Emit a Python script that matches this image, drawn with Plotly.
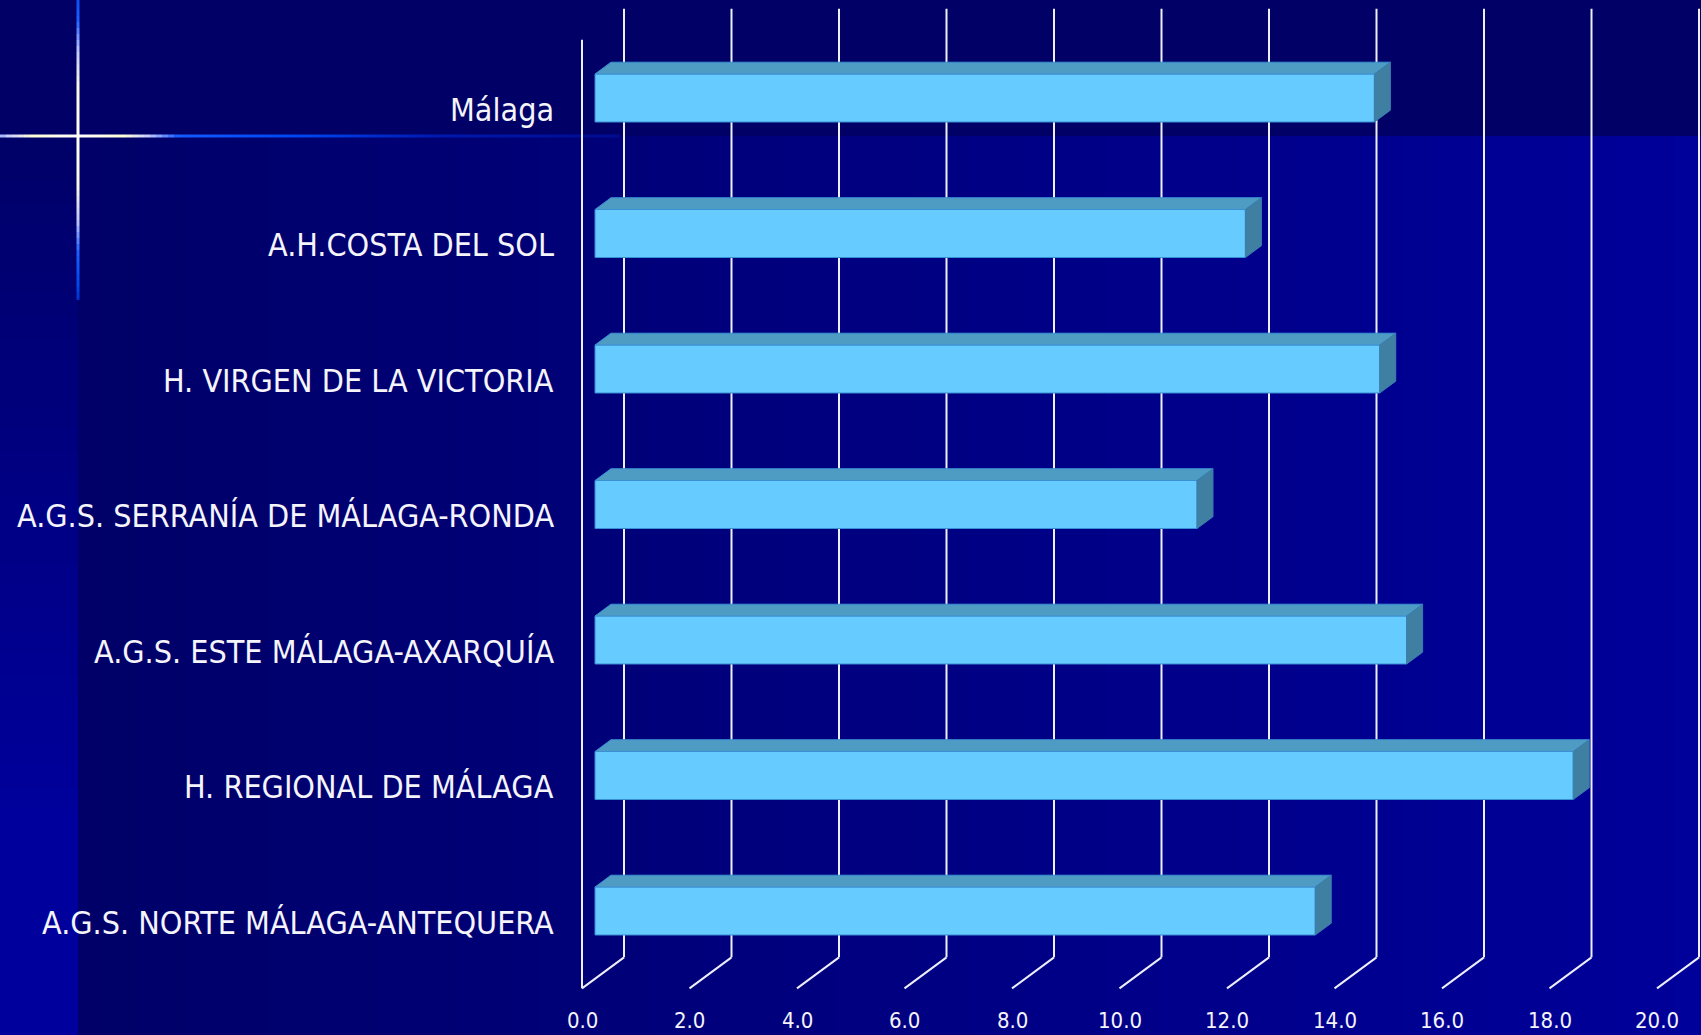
import plotly.graph_objects as go

# ---------------- data ----------------
categories = [
    "Málaga",
    "A.H.COSTA DEL SOL",
    "H. VIRGEN DE LA VICTORIA",
    "A.G.S. SERRANÍA DE MÁLAGA-RONDA",
    "A.G.S. ESTE MÁLAGA-AXARQUÍA",
    "H. REGIONAL DE MÁLAGA",
    "A.G.S. NORTE MÁLAGA-ANTEQUERA",
]
values = [14.5, 12.1, 14.6, 11.2, 15.1, 18.2, 13.4]
tick_values = [0, 2, 4, 6, 8, 10, 12, 14, 16, 18, 20]
tick_labels = ["0.0", "2.0", "4.0", "6.0", "8.0", "10.0", "12.0", "14.0", "16.0", "18.0", "20.0"]

# ---------------- geometry / style ----------------
W, H = 1701, 1035
PX, PY = 53.75, 135.5          # pixels per x unit / per category unit
X0, Y0 = 582.0, 920.6          # pixel of the front-plane origin
x_range = [-X0 / PX, (W - X0) / PX]
y_range = [(Y0 - H) / PY, Y0 / PY]
DX, DY = 42.0 / PX, 31.0 / PY  # depth vector of the 3D box
D_F, D_B = 0.31, 0.69          # bar depth (front / back)
HALF = 24.0 / PY               # half height of bar
FLOOR, TOP = -0.5, 6.5

FONT = "DejaVu Sans Condensed, Liberation Sans Narrow, DejaVu Sans, sans-serif"
FRONT_C, TOP_C, SIDE_C, EDGE_C = "#66ccff", "#4e9cc4", "#3f7fa2", "#3b8fd4"
GRID_C = "#eeeef8"

n = len(categories)
pos = [n - 1 - i for i in range(n)]

fig = go.Figure()

# ---------------- background ----------------
shapes = []
def hexc(c):
    return "#%02x%02x%02x" % tuple(int(round(v)) for v in c)

def lerp(a, b, t):
    return tuple(a[k] + (b[k] - a[k]) * t for k in range(3))

band_px = 136
shapes.append(dict(type="rect", xref="paper", yref="paper", x0=0, x1=1, y0=1 - band_px / H, y1=1,
                   fillcolor="#000066", line_width=0, layer="below"))
# main region, horizontal gradient
left_px = 78
nstrip = 60
for s in range(nstrip):
    a = left_px + (W - left_px) * s / nstrip
    b = left_px + (W - left_px) * (s + 1) / nstrip + 1
    t = (s + 0.5) / nstrip
    col = lerp((0, 0, 104), (0, 0, 154), t)
    shapes.append(dict(type="rect", xref="paper", yref="paper", x0=a / W, x1=min(b, W) / W,
                       y0=0, y1=1 - band_px / H, fillcolor=hexc(col), line_width=0, layer="below"))
# left strip, vertical gradient
for s in range(40):
    a = band_px + (H - band_px) * s / 40
    b = band_px + (H - band_px) * (s + 1) / 40 + 1
    t = (s + 0.5) / 40
    col = lerp((0, 0, 104), (0, 0, 156), min(1, t * 1.3))
    shapes.append(dict(type="rect", xref="paper", yref="paper", x0=0, x1=left_px / W,
                       y0=1 - min(b, H) / H, y1=1 - a / H, fillcolor=hexc(col), line_width=0, layer="below"))

# star (decorative glow lines)
h_stops = [(0, (255, 255, 255)), (45, (255, 255, 215)), (70, (200, 205, 255)), (100, (20, 90, 255)),
           (220, (0, 70, 240)), (360, (0, 25, 175)), (560, (0, 10, 140)), (700, (0, 5, 120))]
v_stops = [(0, (255, 255, 255)), (50, (250, 250, 225)), (85, (190, 200, 255)), (115, (30, 95, 255)),
           (150, (0, 70, 235)), (175, (0, 30, 170))]

def star_col(d, stops):
    for (d1, c1), (d2, c2) in zip(stops[:-1], stops[1:]):
        if d <= d2:
            return lerp(c1, c2, (d - d1) / (d2 - d1))
    return stops[-1][1]

cx, cy = 78, 136
seg = 6
def arm(x_from, x_to, y_from, y_to, horizontal, stops):
    length = abs((x_to - x_from) if horizontal else (y_to - y_from))
    k = int(length // seg) + 1
    for j in range(k):
        d0, d1 = j * seg, min((j + 1) * seg, length)
        if d1 <= d0:
            continue
        col = hexc(star_col((d0 + d1) / 2, stops))
        if horizontal:
            sgn = 1 if x_to > x_from else -1
            xa, xb = x_from + sgn * d0, x_from + sgn * d1
            ya = yb = y_from
        else:
            sgn = 1 if y_to > y_from else -1
            ya, yb = y_from + sgn * d0, y_from + sgn * d1
            xa = xb = x_from
        shapes.append(dict(type="line", xref="paper", yref="paper",
                           x0=xa / W, x1=xb / W, y0=1 - ya / H, y1=1 - yb / H,
                           line=dict(color=col, width=3), layer="below"))

arm(cx, 0, cy, cy, True, h_stops)
arm(cx, 620, cy, cy, True, h_stops)
arm(cx, cx, cy, 0, False, v_stops)
arm(cx, cx, cy, 300, False, v_stops)

# ---------------- 3D walls / gridlines ----------------
grid = dict(color=GRID_C, width=2)
shapes.append(dict(type="line", xref="x", yref="y", x0=0, x1=0, y0=FLOOR, y1=TOP, line=grid, layer="below"))
for v in tick_values:
    shapes.append(dict(type="line", xref="x", yref="y", x0=v, x1=v + DX, y0=FLOOR, y1=FLOOR + DY,
                       line=grid, layer="below"))
    shapes.append(dict(type="line", xref="x", yref="y", x0=v + DX, x1=v + DX, y0=FLOOR + DY, y1=TOP + DY,
                       line=grid, layer="below"))

# ---------------- bars ----------------
fig.add_trace(go.Bar(
    orientation="h", y=[p + D_F * DY for p in pos], x=values, base=D_F * DX, width=2 * HALF,
    marker=dict(color=FRONT_C, line=dict(color=EDGE_C, width=1)), hoverinfo="skip",
))

top_x, top_y, side_x, side_y = [], [], [], []
for p, v in zip(pos, values):
    yt_f = p + HALF + D_F * DY
    yt_b = p + HALF + D_B * DY
    yb_f = p - HALF + D_F * DY
    yb_b = p - HALF + D_B * DY
    xf0, xf1 = D_F * DX, v + D_F * DX
    xb0, xb1 = D_B * DX, v + D_B * DX
    top_x += [xf0, xf1, xb1, xb0, xf0, None]
    top_y += [yt_f, yt_f, yt_b, yt_b, yt_f, None]
    side_x += [xf1, xf1, xb1, xb1, xf1, None]
    side_y += [yb_f, yt_f, yt_b, yb_b, yb_f, None]

fig.add_trace(go.Scatter(x=top_x, y=top_y, mode="lines", fill="toself", fillcolor=TOP_C,
                         line=dict(color=EDGE_C, width=1), hoverinfo="skip"))
fig.add_trace(go.Scatter(x=side_x, y=side_y, mode="lines", fill="toself", fillcolor=SIDE_C,
                         line=dict(color="#3a7fb0", width=1), hoverinfo="skip"))

# ---------------- labels ----------------
annotations = []
for p, name in zip(pos, categories):
    annotations.append(dict(x=(556 - X0) / PX, y=p - 0.015, xref="x", yref="y", text=name, showarrow=False,
                            xanchor="right", yanchor="middle",
                            font=dict(family=FONT, size=32, color="#f4f4fa")))
for v, lab in zip(tick_values, tick_labels):
    annotations.append(dict(x=v, y=(Y0 - 1020) / PY, xref="x", yref="y", text=lab, showarrow=False,
                            xanchor="center", yanchor="middle",
                            font=dict(family=FONT, size=22, color="#f4f4fa")))

fig.update_layout(
    width=W, height=H, margin=dict(l=0, r=0, t=0, b=0),
    paper_bgcolor="#000066", plot_bgcolor="rgba(0,0,0,0)",
    showlegend=False, shapes=shapes, annotations=annotations,
    xaxis=dict(range=x_range, visible=False, fixedrange=True),
    yaxis=dict(range=y_range, visible=False, fixedrange=True),
)

fig.write_html("out.html", config={"displayModeBar": False},
               post_script="document.body.style.margin='0px';document.body.style.overflow='hidden';")
